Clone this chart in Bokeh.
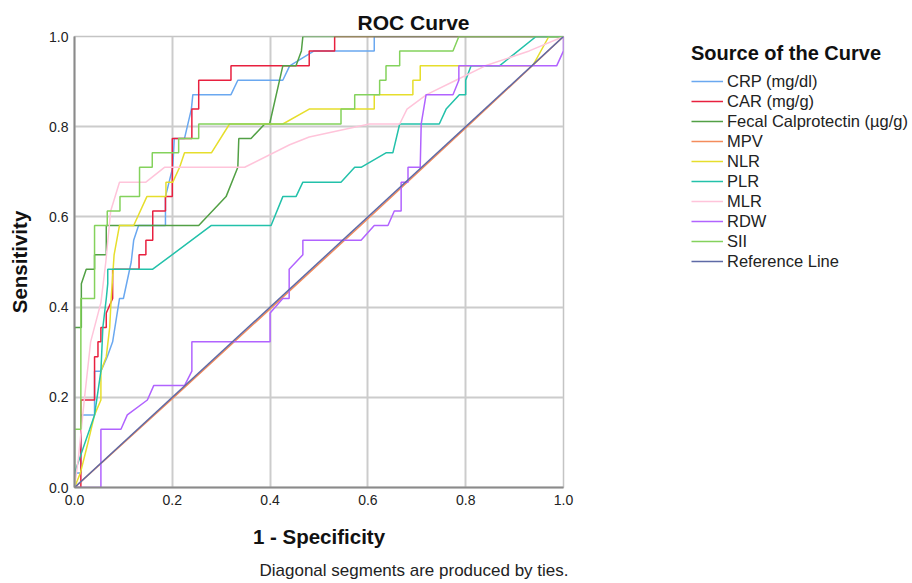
from bokeh.plotting import figure
from bokeh.models import Range1d, FixedTicker, Legend, LegendItem, Title
from bokeh.embed import file_html
from bokeh.resources import INLINE

FONT = "Liberation Sans"

# ---------------- data ----------------
tick_values = [0.0, 0.2, 0.4, 0.6, 0.8, 1.0]
tick_labels = ["0.0", "0.2", "0.4", "0.6", "0.8", "1.0"]

series_names = ["CRP (mg/dl)", "CAR (mg/g)", "Fecal Calprotectin (\u00b5g/g)", "MPV",
                "NLR", "PLR", "MLR", "RDW", "SII", "Reference Line"]
series_colors = ["#6AA8F0", "#E8203F", "#52A045", "#F48C5C", "#E6DE2C",
                 "#23C1AA", "#FFC4DA", "#B163FF", "#84D25C", "#5E6AA6"]

crp_x = [0, 0, 0.013, 0.013, 0.041, 0.041, 0.054, 0.067, 0.078, 0.092, 0.1, 0.116, 0.121,
         0.131, 0.186, 0.186, 0.201, 0.204, 0.225, 0.239, 0.242, 0.32, 0.334, 0.426, 0.44,
         0.49, 0.613, 0.613, 1.0]
crp_y = [0, 0.032, 0.032, 0.161, 0.161, 0.258, 0.258, 0.29, 0.323, 0.419, 0.419, 0.5, 0.548,
         0.581, 0.581, 0.645, 0.71, 0.774, 0.774, 0.839, 0.871, 0.871, 0.903, 0.903, 0.935,
         0.968, 0.968, 1.0, 1.0]

car_x = [0, 0.013, 0.013, 0.041, 0.041, 0.048, 0.048, 0.054, 0.054, 0.065, 0.065, 0.078,
         0.078, 0.132, 0.132, 0.146, 0.146, 0.16, 0.16, 0.186, 0.186, 0.2, 0.2, 0.24, 0.24,
         0.254, 0.254, 0.32, 0.32, 0.48, 0.48, 0.532, 0.532, 1.0]
car_y = [0, 0, 0.194, 0.194, 0.29, 0.29, 0.323, 0.323, 0.355, 0.355, 0.387, 0.419,
         0.484, 0.484, 0.516, 0.516, 0.548, 0.548, 0.613, 0.613, 0.645, 0.645, 0.774, 0.774,
         0.839, 0.839, 0.903, 0.903, 0.935, 0.935, 0.968, 0.968, 1.0, 1.0]

fc_x = [0, 0, 0.014, 0.014, 0.024, 0.041, 0.041, 0.065, 0.065, 0.254, 0.31, 0.334, 0.336,
        0.361, 0.389, 0.399, 0.426, 0.453, 0.464, 0.467, 1.0]
fc_y = [0, 0.355, 0.355, 0.452, 0.484, 0.484, 0.516, 0.516, 0.581, 0.581, 0.645, 0.71, 0.774,
        0.774, 0.806, 0.806, 0.935, 0.935, 0.968, 1.0, 1.0]

mpv_x = [0, 0.2, 0.4, 0.6, 0.8, 1.0]
mpv_y = [0, 0.197, 0.396, 0.596, 0.797, 1.0]

nlr_x = [0, 0.012, 0.027, 0.041, 0.054, 0.054, 0.065, 0.072, 0.075, 0.081, 0.092, 0.121,
         0.148, 0.187, 0.187, 0.201, 0.215, 0.225, 0.28, 0.317, 0.426, 0.48, 0.613, 0.613,
         0.692, 0.692, 0.707, 0.707, 0.937, 0.97, 1.0]
nlr_y = [0, 0.032, 0.097, 0.161, 0.194, 0.258, 0.29, 0.355, 0.419, 0.516, 0.581, 0.581,
         0.645, 0.645, 0.677, 0.677, 0.71, 0.742, 0.742, 0.806, 0.806, 0.839, 0.839, 0.871,
         0.871, 0.903, 0.903, 0.935, 0.935, 1.0, 1.0]

plr_x = [0, 0, 0.031, 0.041, 0.054, 0.058, 0.065, 0.068, 0.068, 0.16, 0.28, 0.402, 0.426,
         0.453, 0.467, 0.545, 0.573, 0.586, 0.637, 0.651, 0.665, 0.746, 0.76, 0.787, 0.8,
         0.8, 0.811, 0.869, 0.944, 1.0]
plr_y = [0, 0.032, 0.129, 0.161, 0.258, 0.355, 0.419, 0.452, 0.484, 0.484, 0.581, 0.581,
         0.645, 0.645, 0.677, 0.677, 0.71, 0.71, 0.742, 0.742, 0.806, 0.806, 0.839, 0.871,
         0.871, 0.903, 0.935, 0.935, 1.0, 1.0]

mlr_x = [0, 0.008, 0.02, 0.033, 0.054, 0.064, 0.074, 0.092, 0.146, 0.184, 0.348, 0.44,
         0.48, 0.603, 0.665, 0.68, 0.72, 0.78, 0.84, 0.93, 1.0]
mlr_y = [0, 0.065, 0.194, 0.323, 0.41, 0.5, 0.613, 0.677, 0.677, 0.71, 0.71, 0.76,
         0.777, 0.806, 0.806, 0.839, 0.871, 0.903, 0.935, 0.968, 1.0]

rdw_x = [0, 0.054, 0.054, 0.095, 0.108, 0.149, 0.162, 0.225, 0.24, 0.24, 0.4, 0.4, 0.426,
         0.439, 0.439, 0.467, 0.467, 0.586, 0.613, 0.641, 0.654, 0.668, 0.668, 0.682, 0.682,
         0.707, 0.709, 0.719, 0.774, 0.786, 0.786, 0.986, 1.0, 1.0]
rdw_y = [0, 0, 0.129, 0.129, 0.161, 0.194, 0.226, 0.226, 0.258, 0.323, 0.323, 0.387, 0.419,
         0.419, 0.484, 0.516, 0.548, 0.548, 0.581, 0.581, 0.613, 0.613, 0.677, 0.677, 0.71,
         0.71, 0.806, 0.871, 0.871, 0.903, 0.935, 0.935, 0.968, 1.0]

sii_x = [0, 0, 0.013, 0.013, 0.041, 0.041, 0.067, 0.067, 0.093, 0.093, 0.133, 0.133, 0.159,
         0.159, 0.213, 0.213, 0.254, 0.254, 0.545, 0.545, 0.573, 0.573, 0.624, 0.624, 0.637,
         0.637, 0.665, 0.665, 0.774, 0.786, 1.0]
sii_y = [0, 0.129, 0.129, 0.419, 0.419, 0.581, 0.581, 0.613, 0.613, 0.645, 0.645, 0.71, 0.71,
         0.742, 0.742, 0.774, 0.774, 0.806, 0.806, 0.839, 0.839, 0.871, 0.871, 0.903, 0.903,
         0.935, 0.935, 0.968, 0.968, 1.0, 1.0]

ref_x = [0, 1.0]
ref_y = [0, 1.0]

series_xs = [crp_x, car_x, fc_x, mpv_x, nlr_x, plr_x, mlr_x, rdw_x, sii_x, ref_x]
series_ys = [crp_y, car_y, fc_y, mpv_y, nlr_y, plr_y, mlr_y, rdw_y, sii_y, ref_y]

# ---------------- figure ----------------
p = figure(frame_width=489, frame_height=451, output_backend="svg", toolbar_location=None,
           x_range=Range1d(0, 1), y_range=Range1d(0, 1),
           min_border_left=74, min_border_top=36, min_border_right=347, min_border_bottom=95,
           background_fill_color="white", border_fill_color="white")

p.outline_line_color = "#c4c4c4"
p.outline_line_width = 1.5

p.title.text = "ROC Curve"
p.title.align = "left"
p.title.offset = 283
p.title.standoff = 5
p.title.text_font = FONT
p.title.text_font_size = "21px"
p.title.text_font_style = "bold"
p.title.text_color = "#111111"

for ax in (p.xaxis[0], p.yaxis[0]):
    ax.ticker = FixedTicker(ticks=tick_values)
    ax.major_label_overrides = {v: s for v, s in zip(tick_values, tick_labels)}
    ax.minor_tick_line_color = None
    ax.major_tick_out = 0
    ax.major_tick_in = 0
    ax.axis_line_color = "#8a8a8a"
    ax.axis_line_width = 2
    ax.major_label_text_font = FONT
    ax.major_label_text_font_size = "14px"
    ax.major_label_text_color = "#222222"
    ax.axis_label_text_font = FONT
    ax.axis_label_text_font_size = "20.5px"
    ax.axis_label_text_font_style = "bold"
    ax.axis_label_text_color = "#111111"

p.xaxis[0].axis_label = "1 - Specificity"
p.xaxis[0].major_label_standoff = 7
p.xaxis[0].axis_label_standoff = 17
p.yaxis[0].axis_label = "Sensitivity"
p.yaxis[0].major_label_standoff = 6
p.yaxis[0].axis_label_standoff = 15

p.grid.ticker = FixedTicker(ticks=tick_values)
p.grid.grid_line_color = "#cccccc"
p.grid.grid_line_width = 2

items = []
for name, color, xs, ys in zip(series_names, series_colors, series_xs, series_ys):
    r = p.line(xs, ys, line_color=color, line_width=1.5)
    items.append(LegendItem(label=name, renderers=[r]))

legend = Legend(items=items, location=(128, 216), orientation="vertical",
                title="Source of the Curve", title_text_font=FONT,
                title_text_font_size="20px", title_text_font_style="bold",
                title_text_color="#111111", title_standoff=6,
                glyph_width=32, glyph_height=20, label_height=20, label_standoff=4,
                spacing=0, padding=0, margin=0,
                border_line_alpha=0, background_fill_alpha=0,
                label_text_font=FONT, label_text_font_size="16.5px",
                label_text_color="#222222")
p.add_layout(legend, "right")

foot = Title(text="Diagonal segments are produced by ties.", align="left", offset=185,
             standoff=16, text_font=FONT, text_font_size="17px", text_font_style="normal",
             text_color="#222222")
p.add_layout(foot, "below")

open("out.html", "w").write(file_html(p, INLINE))
